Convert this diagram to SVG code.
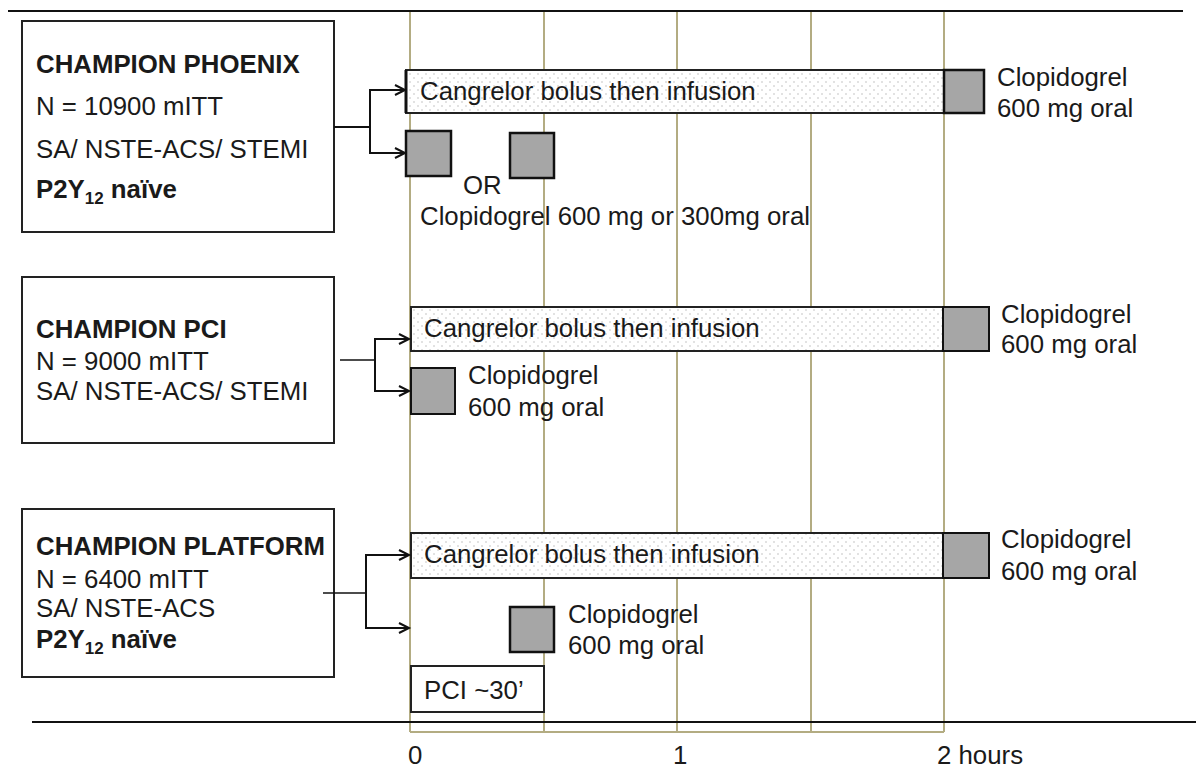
<svg xmlns="http://www.w3.org/2000/svg" width="1196" height="767" viewBox="0 0 1196 767">
<defs>
<pattern id="dots" width="8" height="8" patternUnits="userSpaceOnUse">
<rect width="8" height="8" fill="#ffffff"/>
<circle cx="2" cy="2" r="0.8" fill="#bdbdbd"/>
<circle cx="6" cy="6" r="0.8" fill="#bdbdbd"/>
</pattern>
<marker id="arr" markerUnits="userSpaceOnUse" markerWidth="14" markerHeight="14" refX="11" refY="6" orient="auto">
<path d="M1,1 L11,6 L1,11" fill="none" stroke="#111" stroke-width="2"/>
</marker>
</defs>
<style>
text{font-family:"Liberation Sans",Arial,sans-serif;font-size:25.8px;fill:#1a1a1a}
.b{font-weight:bold}
.sub{font-size:17px;font-weight:bold}
.box{fill:#fff;stroke:#222;stroke-width:2}
.bar{fill:url(#dots);stroke:#222;stroke-width:2}
.sq{fill:#a6a6a6;stroke:#111;stroke-width:2.5}
.grid{stroke:#b3ac82;stroke-width:2;fill:none}
.axis{stroke:#111;stroke-width:2}
.con{stroke:#111;stroke-width:2;fill:none}
.thin{stroke:#111;stroke-width:1.3;fill:none}
</style>
<rect width="1196" height="767" fill="#fff"/>
<g id="grid">
<line class="grid" x1="410" y1="12" x2="410" y2="732"/>
<line class="grid" x1="544" y1="12" x2="544" y2="732"/>
<line class="grid" x1="677" y1="12" x2="677" y2="732"/>
<line class="grid" x1="811" y1="12" x2="811" y2="732"/>
<line class="grid" x1="944" y1="12" x2="944" y2="732"/>
<line class="grid" x1="410" y1="732" x2="944" y2="732"/>
</g>
<g id="axes">
<line class="axis" x1="8" y1="11" x2="1183" y2="11"/>
<line class="axis" x1="32" y1="722" x2="1196" y2="722"/>
<text x="408" y="764">0</text>
<text x="673" y="764">1</text>
<text x="937" y="764">2 hours</text>
</g>
<g id="phoenix">
<rect class="box" x="22" y="21" width="312" height="211"/>
<text class="b" x="36" y="73">CHAMPION PHOENIX</text>
<text x="36" y="115">N = 10900 mITT</text>
<text x="36" y="158">SA/ NSTE-ACS/ STEMI</text>
<text class="b" x="36" y="198">P2Y<tspan class="sub" dy="6">12</tspan><tspan dy="-6"> naïve</tspan></text>
</g>
<g id="phoenix-cangrelor">
<rect class="bar" x="406" y="70" width="538" height="43"/>
<line x1="406" y1="70" x2="406" y2="113" stroke="#111" stroke-width="3"/>
<text x="420" y="100">Cangrelor bolus then infusion</text>
</g>
<g id="phoenix-clop-end">
<rect class="sq" x="944" y="70" width="40" height="43"/>
<text x="997" y="86">Clopidogrel</text>
<text x="997" y="117">600 mg oral</text>
</g>
<g id="phoenix-clop">
<rect class="sq" x="406" y="131" width="45" height="45"/>
<rect class="sq" x="510" y="133" width="44" height="45"/>
<text x="463" y="194">OR</text>
<text x="420" y="225">Clopidogrel 600 mg or 300mg oral</text>
</g>
<g id="pci">
<rect class="box" x="22" y="277" width="312" height="166"/>
<text class="b" x="36" y="338">CHAMPION PCI</text>
<text x="36" y="370">N = 9000 mITT</text>
<text x="36" y="400">SA/ NSTE-ACS/ STEMI</text>
</g>
<g id="pci-cangrelor">
<rect class="bar" x="411" y="307" width="532" height="44"/>
<text x="424" y="337">Cangrelor bolus then infusion</text>
</g>
<g id="pci-clop-end">
<rect class="sq" x="943" y="307" width="46" height="44" style="stroke-width:2"/>
<text x="1001" y="323">Clopidogrel</text>
<text x="1001" y="353">600 mg oral</text>
</g>
<g id="pci-clop">
<rect class="sq" x="411" y="368" width="44" height="46" style="stroke-width:2"/>
<text x="468" y="384">Clopidogrel</text>
<text x="468" y="416">600 mg oral</text>
</g>
<g id="platform">
<rect class="box" x="22" y="509" width="312" height="168"/>
<text class="b" x="36" y="555">CHAMPION PLATFORM</text>
<text x="36" y="588">N = 6400 mITT</text>
<text x="36" y="617">SA/ NSTE-ACS</text>
<text class="b" x="36" y="648">P2Y<tspan class="sub" dy="6">12</tspan><tspan dy="-6"> naïve</tspan></text>
</g>
<g id="platform-cangrelor">
<rect class="bar" x="411" y="533" width="532" height="45"/>
<text x="424" y="563">Cangrelor bolus then infusion</text>
</g>
<g id="platform-clop-end">
<rect class="sq" x="943" y="533" width="46" height="45" style="stroke-width:2"/>
<text x="1001" y="548">Clopidogrel</text>
<text x="1001" y="580">600 mg oral</text>
</g>
<g id="platform-clop">
<rect class="sq" x="510" y="607" width="44" height="45"/>
<text x="568" y="623">Clopidogrel</text>
<text x="568" y="654">600 mg oral</text>
</g>
<g id="pci-duration">
<rect class="box" x="411" y="666" width="133" height="46"/>
<text x="424" y="699">PCI ~30’</text>
</g>
<g id="connectors">
<line class="con" x1="334" y1="127" x2="370" y2="127"/>
<polyline class="con" points="405,90 370,90 370,153 405,153"/>
<line class="con" x1="370" y1="90" x2="405" y2="90" marker-end="url(#arr)"/>
<line class="con" x1="370" y1="153" x2="405" y2="153" marker-end="url(#arr)"/>
<line class="thin" x1="340" y1="360" x2="375" y2="360"/>
<polyline class="con" points="409,339 375,339 375,391 409,391"/>
<line class="con" x1="375" y1="339" x2="409" y2="339" marker-end="url(#arr)"/>
<line class="con" x1="375" y1="391" x2="409" y2="391" marker-end="url(#arr)"/>
<line class="thin" x1="323" y1="593" x2="366" y2="593"/>
<polyline class="con" points="409,555 366,555 366,628 409,628"/>
<line class="con" x1="366" y1="555" x2="409" y2="555" marker-end="url(#arr)"/>
<line class="con" x1="366" y1="628" x2="409" y2="628" marker-end="url(#arr)"/>
</g>
</svg>
